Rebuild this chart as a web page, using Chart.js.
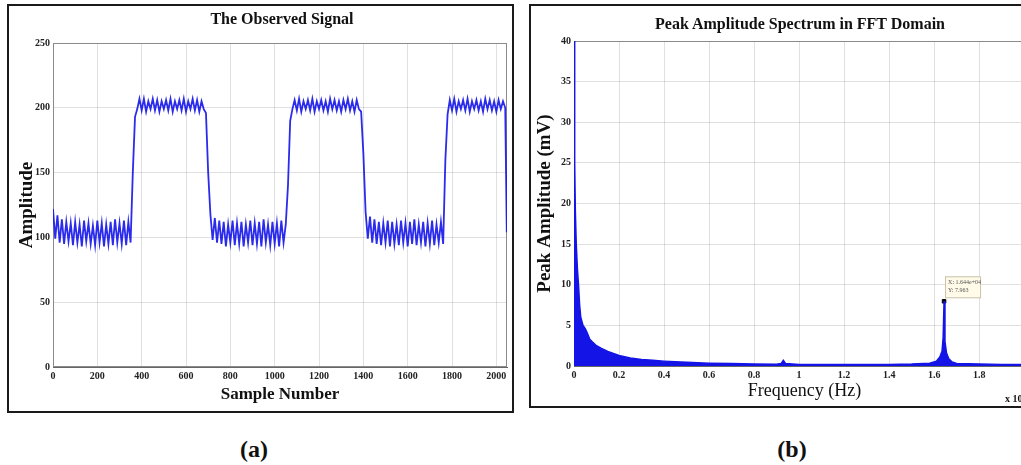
<!DOCTYPE html>
<html>
<head>
<meta charset="utf-8">
<script src="https://cdn.jsdelivr.net/npm/chart.js@4.4.1/dist/chart.umd.min.js"></script>
<style>
  html, body { margin: 0; padding: 0; background: #fff; width: 1021px; height: 465px; overflow: hidden; position: relative;
    font-family: "Liberation Serif", "Times New Roman", serif; color: #111; }
  .frame { position: absolute; border: 2px solid #1a1a1a; box-sizing: border-box; }
  #frameA { left: 7px; top: 4px; width: 507px; height: 409px; }
  #frameB { left: 529px; top: 4px; width: 530px; height: 404px; }
  canvas { position: absolute; }
  #signal { left: 9px; top: 6px; }
  #spectrum { left: 532px; top: 6px; }
  .title { position: absolute; font-weight: bold; font-size: 16px; white-space: nowrap; transform: translate(-50%, -50%); }
  .panel { position: absolute; font-weight: bold; font-size: 24px; transform: translate(-50%, -50%); }
  #expo { position: absolute; left: 1005px; top: 391px; font-size: 10px; font-weight: bold; white-space: nowrap; }
</style>
</head>
<body>
<div class="frame" id="frameA"></div>
<div class="frame" id="frameB"></div>
<canvas id="signal" width="503" height="404"></canvas>
<canvas id="spectrum" width="510" height="400"></canvas>
<div class="title" style="left:282px; top:19px;">The Observed Signal</div>
<div class="title" style="left:800px; top:24px;">Peak Amplitude Spectrum in FFT Domain</div>
<div id="expo">x 10<sup>4</sup></div>
<div class="panel" style="left:254px; top:449px;">(a)</div>
<div class="panel" style="left:792px; top:449px;">(b)</div>
<script>
// observed signal, one stored point every 10 samples (last one is sample 2047)
const sampleStep = 10;
const lastSample = 2047;
const amplitude = [
  122, 99, 117, 96, 114, 95, 112, 97, 111, 94,
  112, 96, 110, 93, 113, 97, 111, 95, 109, 94,
  113, 96, 111, 93, 110, 95, 112, 94, 114, 96,
  111, 95, 113, 94, 112, 96, 150, 193, 199, 207,
  198, 207, 197, 205, 199, 207, 198, 206, 197, 205,
  199, 206, 198, 207, 197, 205, 199, 206, 198, 207,
  197, 205, 199, 207, 198, 206, 197, 205, 199, 196,
  150, 118, 98, 115, 96, 113, 95, 112, 93, 110,
  96, 113, 94, 111, 95, 112, 93, 110, 96, 113,
  94, 111, 95, 112, 93, 114, 96, 110, 94, 112,
  95, 111, 93, 113, 96, 110, 140, 190, 199, 206,
  198, 207, 197, 205, 199, 206, 198, 207, 197, 205,
  199, 206, 198, 205, 197, 207, 199, 206, 198, 205,
  197, 206, 199, 207, 198, 205, 197, 206, 199, 197,
  165, 120, 99, 116, 96, 114, 95, 112, 94, 111,
  96, 113, 93, 112, 95, 110, 94, 113, 96, 111,
  93, 112, 95, 114, 94, 110, 96, 112, 93, 111,
  95, 113, 94, 110, 96, 112, 95, 160, 195, 206,
  198, 207, 197, 205, 199, 206, 198, 207, 197, 205,
  199, 206, 198, 205, 197, 207, 199, 206, 198, 205,
  197, 206, 199, 205, 200, 104
];
const sampleNumber = amplitude.map((_, i) => Math.min(i * sampleStep, lastSample));

// spectrum, frequency in units of 10^4 Hz
const freq = [0, 0.003, 0.006, 0.01, 0.015, 0.02, 0.025, 0.03, 0.04, 0.05, 0.06, 0.07, 0.08, 0.1, 0.12, 0.15,
  0.2, 0.25, 0.3, 0.35, 0.4, 0.5, 0.6, 0.7, 0.8, 0.9, 0.92, 0.93, 0.94, 1.0, 1.2, 1.4, 1.5, 1.58, 1.61,
  1.625, 1.635, 1.64, 1.644, 1.648, 1.655, 1.665, 1.68, 1.7, 1.8, 1.9, 2.0, 2.048];
const peakAmp = [40, 25, 19, 15, 12, 10, 7.5, 6, 5, 4.6, 4, 3.3, 3, 2.5, 2.2, 1.8,
  1.3, 1.0, 0.8, 0.7, 0.6, 0.45, 0.35, 0.3, 0.25, 0.22, 0.3, 0.7, 0.3, 0.2, 0.2, 0.2, 0.25, 0.35, 0.6,
  1.1, 1.8, 3.5, 7.963, 3, 1.6, 0.9, 0.5, 0.3, 0.25, 0.2, 0.2, 0.2];
const markerFreq = [1.644];
const markerAmp = [7.963];
const markerText = ['X: 1.644e+04', 'Y: 7.963'];

const serif = '"Liberation Serif", "Times New Roman", serif';
const tickFont = { family: serif, size: 10, weight: 'bold' };
const gridColor = 'rgba(0,0,0,0.12)';

// grey box around the plotting area, like MATLAB axes (drawn under the data)
const axesBox = {
  id: 'axesBox',
  beforeDatasetsDraw(chart) {
    const { ctx, chartArea: a } = chart;
    ctx.save();
    ctx.strokeStyle = '#8a8a8a';
    ctx.lineWidth = 1;
    ctx.strokeRect(a.left + 0.5, a.top + 0.5, a.right - a.left - 1, a.bottom - a.top - 1);
    ctx.restore();
  }
};

const dataTip = {
  id: 'dataTip',
  afterDatasetsDraw(chart) {
    const { ctx, scales } = chart;
    const px = scales.x.getPixelForValue(markerFreq[0]);
    const py = scales.y.getPixelForValue(markerAmp[0]);
    ctx.save();
    ctx.fillStyle = '#fffbe8';
    ctx.strokeStyle = '#c8c2a8';
    ctx.fillRect(px + 1, py - 25, 35, 21);
    ctx.strokeRect(px + 1.5, py - 24.5, 35, 21);
    ctx.fillStyle = '#555';
    ctx.font = '6px ' + serif;
    ctx.fillText(markerText[0], px + 4, py - 17);
    ctx.fillText(markerText[1], px + 4, py - 9);
    ctx.restore();
  }
};

new Chart(document.getElementById('signal'), {
  type: 'line',
  data: {
    datasets: [{
      data: amplitude.map((v, i) => ({ x: sampleNumber[i], y: v })),
      borderColor: 'rgba(20,20,235,0.9)',
      borderWidth: 1.8,
      pointRadius: 0,
      tension: 0,
      fill: false
    }]
  },
  options: {
    responsive: false,
    animation: false,
    layout: { padding: { left: 0, right: 5, top: 37, bottom: 0 } },
    plugins: { legend: { display: false }, tooltip: { enabled: false } },
    scales: {
      x: {
        type: 'linear', min: 0, max: 2048,
        afterFit: s => { s.height = 43; },
        ticks: { stepSize: 200, includeBounds: false, padding: 3, color: '#222', font: tickFont, maxRotation: 0, autoSkip: false,
          callback: v => String(v) },
        grid: { color: gridColor, drawTicks: false },
        border: { color: '#666' },
        title: { display: true, text: 'Sample Number', color: '#111', font: { family: serif, size: 17, weight: 'bold' }, padding: { top: 0, bottom: 5 } }
      },
      y: {
        min: 0, max: 250,
        afterFit: s => { s.width = 44; },
        ticks: { stepSize: 50, padding: 3, color: '#222', font: tickFont },
        grid: { color: gridColor, drawTicks: false },
        border: { color: '#666' },
        title: { display: true, text: 'Amplitude', color: '#111', font: { family: serif, size: 19, weight: 'bold' }, padding: { top: 7, bottom: 0 } }
      }
    }
  },
  plugins: [axesBox]
});

new Chart(document.getElementById('spectrum'), {
  type: 'line',
  data: {
    datasets: [{
      data: freq.map((f, i) => ({ x: f, y: peakAmp[i] })),
      borderColor: 'rgba(20,20,230,1)',
      backgroundColor: 'rgba(20,20,230,1)',
      borderWidth: 1.5,
      pointRadius: 0,
      tension: 0,
      fill: 'origin'
    }, {
      type: 'scatter',
      data: markerFreq.map((f, i) => ({ x: f, y: markerAmp[i] })),
      pointStyle: 'rect',
      pointRadius: 2.5,
      backgroundColor: '#000',
      borderColor: '#000'
    }]
  },
  options: {
    responsive: false,
    animation: false,
    layout: { padding: { left: 0, right: 7, top: 35, bottom: 0 } },
    plugins: { legend: { display: false }, tooltip: { enabled: false } },
    scales: {
      x: {
        type: 'linear', min: 0, max: 2.048,
        afterFit: s => { s.height = 40; },
        ticks: { stepSize: 0.2, includeBounds: false, padding: 3, color: '#222', font: tickFont, maxRotation: 0, autoSkip: false,
          callback: v => String(+v.toFixed(1)) },
        grid: { color: gridColor, drawTicks: false },
        border: { color: '#666' },
        title: { display: true, text: 'Frequency (Hz)', color: '#111', font: { family: serif, size: 18 }, padding: { top: 0, bottom: 4 } }
      },
      y: {
        min: 0, max: 40,
        afterFit: s => { s.width = 42; },
        ticks: { stepSize: 5, padding: 3, color: '#222', font: tickFont },
        grid: { color: gridColor, drawTicks: false },
        border: { color: '#666' },
        title: { display: true, text: 'Peak Amplitude (mV)', color: '#111', font: { family: serif, size: 19, weight: 'bold' }, padding: { top: 2, bottom: 0 } }
      }
    }
  },
  plugins: [axesBox, dataTip]
});
</script>
</body>
</html>
